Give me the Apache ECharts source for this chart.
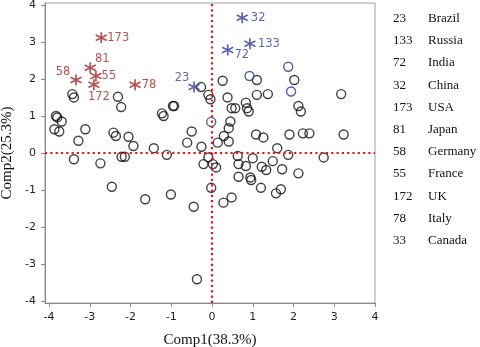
<!DOCTYPE html>
<html>
<head>
<meta charset="utf-8">
<script src="https://cdn.jsdelivr.net/npm/echarts@6/dist/echarts.min.js"></script>
<style>
  html, body { margin: 0; padding: 0; background: #fff; }
  #chart { width: 480px; height: 347px; }
</style>
</head>
<body>
<div id="chart"></div>
<script>
// ===== 数据 =====
// 普通样本 (Comp1, Comp2)
const blackPoints = [
  [-3.43, 1.59], [-3.39, 1.50], [-2.31, 1.52], [-2.23, 1.24], [-3.83, 1.00],
  [-3.80, 0.96], [-3.69, 0.85], [-3.87, 0.64], [-3.75, 0.58], [-3.28, 0.33],
  [-3.11, 0.64], [-2.42, 0.55], [-2.36, 0.46], [-2.05, 0.44], [-1.93, 0.19],
  [-1.43, 0.13], [-1.23, 1.07], [-1.19, 1.00], [-0.96, 1.27], [-0.93, 1.27],
  [-0.61, 0.28], [-0.50, 0.58], [-0.26, 0.17], [-0.27, 1.78], [-0.09, 1.57],
  [-0.04, 1.45], [0.26, 1.95], [0.38, 1.50], [0.48, 1.21], [0.57, 1.21],
  [0.45, 0.85], [0.41, 0.67], [0.29, 0.46], [0.41, 0.31], [0.14, 0.28],
  [-3.39, -0.17], [-2.74, -0.28], [-2.22, -0.10], [-2.14, -0.10], [-1.11, -0.05],
  [-0.09, -0.12], [-0.21, -0.30], [0.02, -0.30], [0.10, -0.39], [0.63, -0.08],
  [0.65, -0.30], [-2.46, -0.91], [-1.64, -1.25], [-1.01, -1.12], [-0.45, -1.45],
  [-0.02, -0.94], [0.28, -1.34], [0.48, -1.20], [-0.37, -3.41], [0.65, -0.64],
  [0.83, -0.35], [1.00, -0.14], [0.94, -0.66], [0.96, -0.73], [1.22, -0.37],
  [1.33, -0.46], [1.49, -0.22], [1.60, 0.13], [1.87, -0.05], [1.72, -0.44],
  [2.12, -0.55], [2.74, -0.12], [1.20, -0.94], [1.69, -0.98], [1.57, -1.09],
  [1.10, 1.97], [2.02, 1.97], [1.10, 1.57], [1.37, 1.59], [3.17, 1.59],
  [0.83, 1.36], [0.86, 1.21], [0.90, 1.12], [2.12, 1.27], [2.18, 1.12],
  [1.08, 0.50], [1.26, 0.42], [1.90, 0.50], [2.23, 0.53], [2.39, 0.53],
  [3.23, 0.50]
];
// 蓝色空心圆
const bluePoints = [[-0.02, 0.84], [1.87, 2.33], [0.92, 2.08], [1.94, 1.66]];

// 星号标记的国家
const redCodes = ['173', '81', '55', '58', '172', '78'];
const redX = [-2.72, -2.99, -2.85, -3.34, -2.90, -1.89];
const redY = [3.11, 2.30, 2.08, 1.97, 1.84, 1.84];

const blueCodes = ['23', '72', '32', '133'];
const blueX = [-0.44, 0.385, 0.74, 0.93];
const blueY = [1.78, 2.78, 3.65, 2.95];

// 右侧对照表
const legendCodes = ['23', '133', '72', '32', '173', '81', '58', '55', '172', '78', '33'];
const legendNames = ['Brazil', 'Russia', 'India', 'China', 'USA', 'Japan', 'Germany', 'France', 'UK', 'Italy', 'Canada'];

const xTicks = [-4, -3, -2, -1, 0, 1, 2, 3, 4];
const yTicks = [-4, -3, -2, -1, 0, 1, 2, 3, 4];

// 标签偏移（像素）
const labelOffset = {
  '173': [17, 0], '81': [12, -9], '55': [13, 0], '58': [-13, -8],
  '172': [5, 12], '78': [14, 0], '23': [-12, -9], '72': [14, 5],
  '32': [16, 0], '133': [19, 0]
};

const RED = '#a3262a';
const BLUE = '#333d98';
const STAR = 'path://M5,0L5,10M0.67,2.5L9.33,7.5M0.67,7.5L9.33,2.5';

function starData(codes, xs, ys) {
  return codes.map(function(c, i) {
    return { name: c, value: [xs[i], ys[i]], label: { offset: labelOffset[c] } };
  });
}

function starSeries(codes, xs, ys, color) {
  return {
    type: 'scatter',
    data: starData(codes, xs, ys),
    symbol: STAR,
    symbolSize: 11,
    itemStyle: { color: 'rgba(0,0,0,0)', borderColor: color, borderWidth: 1.7 },
    label: {
      show: true,
      position: 'inside',
      formatter: function(p) { return p.name; },
      color: color,
      fontFamily: 'DejaVu Sans',
      fontSize: 11.5
    },
    z: 5
  };
}

const chart = echarts.init(document.getElementById('chart'), null, { renderer: 'canvas' });

const graphics = [];
legendCodes.forEach(function(c, i) {
  const y = 20 + i * 22.2;
  graphics.push({ type: 'text', left: 393, top: y - 8,
    style: { text: c, font: '13px "Liberation Serif"', fill: '#111' } });
  graphics.push({ type: 'text', left: 428, top: y - 8,
    style: { text: legendNames[i], font: '13px "Liberation Serif"', fill: '#111' } });
});

const axisText = { color: '#1c1c38', fontFamily: 'DejaVu Sans', fontSize: 11 };

chart.setOption({
  backgroundColor: '#fff',
  animation: false,
  grid: {
    left: 45, right: 105, top: 3, bottom: 44,
    outerBoundsMode: 'none', containLabel: false,
    show: true, borderColor: '#a0a0a0', borderWidth: 1
  },
  xAxis: {
    type: 'value', min: -4.1, max: 4,
    name: 'Comp1(38.3%)', nameLocation: 'middle', nameGap: 30,
    nameTextStyle: { fontFamily: 'Liberation Serif', fontSize: 15, color: '#111' },
    axisLine: { show: true, onZero: false, lineStyle: { color: '#8a8a8a' } },
    axisTick: { show: true, length: 4, customValues: xTicks, lineStyle: { color: '#8a8a8a' } },
    axisLabel: Object.assign({ customValues: xTicks, margin: 9 }, axisText),
    splitLine: { show: false }
  },
  yAxis: {
    type: 'value', min: -4.05, max: 4.05,
    name: 'Comp2(25.3%)', nameLocation: 'middle', nameGap: 27,
    nameTextStyle: { fontFamily: 'Liberation Serif', fontSize: 15, color: '#111' },
    axisLine: { show: true, onZero: false, lineStyle: { color: '#8a8a8a' } },
    axisTick: { show: true, length: 4, customValues: yTicks, lineStyle: { color: '#8a8a8a' } },
    axisLabel: Object.assign({ customValues: yTicks, margin: 9 }, axisText),
    splitLine: { show: false }
  },
  graphic: graphics,
  series: [
    {
      type: 'scatter',
      data: blackPoints,
      symbol: 'circle',
      symbolSize: 9,
      itemStyle: { color: 'rgba(0,0,0,0)', borderColor: '#111', borderWidth: 1.4 },
      markLine: {
        silent: true,
        symbol: 'none',
        label: { show: false },
        lineStyle: { color: '#e3141c', width: 2.2, type: [2.2, 3.1], opacity: 1 },
        data: [{ xAxis: 0 }, { yAxis: 0 }]
      },
      z: 3
    },
    {
      type: 'scatter',
      data: bluePoints,
      symbol: 'circle',
      symbolSize: 9,
      itemStyle: { color: 'rgba(0,0,0,0)', borderColor: '#2a3488', borderWidth: 1.4 },
      z: 3
    },
    starSeries(redCodes, redX, redY, RED),
    starSeries(blueCodes, blueX, blueY, BLUE)
  ]
});
</script>
</body>
</html>
